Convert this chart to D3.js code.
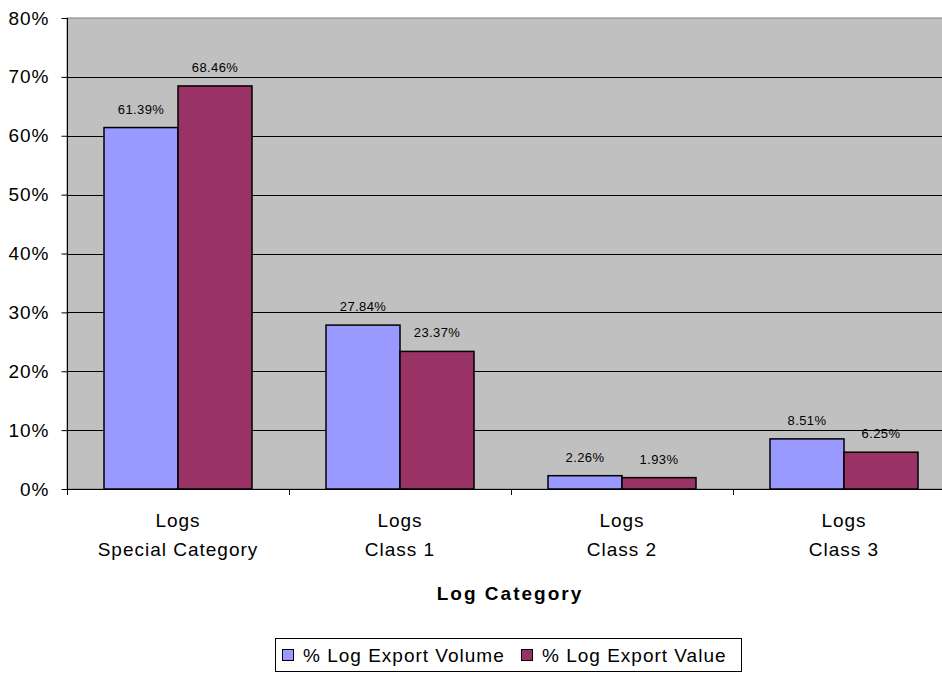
<!DOCTYPE html>
<html>
<head>
<meta charset="utf-8">
<script src="https://cdn.jsdelivr.net/npm/d3@7"></script>
<style>
  body { margin: 0; background: #fff; }
  svg { display: block; font-family: "Liberation Sans", Arial, sans-serif; }
</style>
</head>
<body>
<script>
// ** Data
const categories = ["Logs\nSpecial Category", "Logs\nClass 1", "Logs\nClass 2", "Logs\nClass 3"];
const seriesNames = ["% Log Export Volume", "% Log Export Value"];
const exportVolume = [61.39, 27.84, 2.26, 8.51];
const exportValue = [68.46, 23.37, 1.93, 6.25];
const yTicks = [0, 10, 20, 30, 40, 50, 60, 70, 80];
const colors = ["#9999FF", "#993366"];

const rows = categories.map((c, i) => ({ cat: c, values: [exportVolume[i], exportValue[i]] }));

const width = 942, height = 681;
const plot = { left: 67, right: 955, top: 18, bottom: 489 };

const svg = d3.select("body").append("svg")
  .attr("width", width)
  .attr("height", height);

const x = d3.scaleBand().domain(categories).range([plot.left, plot.right]).padding(0);
const xInner = d3.scaleBand().domain(seriesNames).range([0, x.bandwidth()])
  .paddingInner(0).paddingOuter(0.5);
const y = d3.scaleLinear().domain([0, 80]).range([plot.bottom, plot.top]);

// plot background
svg.append("rect")
  .attr("x", plot.left).attr("y", plot.top)
  .attr("width", plot.right - plot.left).attr("height", plot.bottom - plot.top)
  .attr("fill", "#C0C0C0")
  .attr("stroke", "#808080");

// gridlines
svg.append("g")
  .selectAll("line")
  .data(yTicks.filter(d => d > 0 && d < 80))
  .join("line")
  .attr("x1", plot.left).attr("x2", plot.right)
  .attr("y1", d => Math.round(y(d)) + 0.5).attr("y2", d => Math.round(y(d)) + 0.5)
  .attr("stroke", "#000").attr("stroke-width", 1);

// y axis
const yAxis = svg.append("g")
  .attr("transform", `translate(${plot.left + 0.5},0)`)
  .call(d3.axisLeft(y).tickValues(yTicks).tickSize(6).tickPadding(12).tickFormat(d => d + "%"));
yAxis.selectAll("text").attr("font-size", 19).attr("fill", "#000")
  .attr("letter-spacing", 1)
  .attr("font-family", "Liberation Sans, Arial, sans-serif");
yAxis.selectAll("line, path").attr("stroke", "#000");
yAxis.select(".domain").attr("d", `M0,${plot.top}V${plot.bottom}`);

// bars
const groups = svg.append("g")
  .selectAll("g")
  .data(rows)
  .join("g")
  .attr("transform", d => `translate(${x(d.cat)},0)`);

groups.selectAll("rect")
  .data(d => d.values.map((v, i) => ({ key: seriesNames[i], v, i })))
  .join("rect")
  .attr("x", d => xInner(d.key))
  .attr("y", d => y(d.v))
  .attr("width", xInner.bandwidth())
  .attr("height", d => y(0) - y(d.v))
  .attr("fill", d => colors[d.i])
  .attr("stroke", "#000")
  .attr("stroke-width", 1.5);

groups.selectAll("text.lbl")
  .data(d => d.values.map((v, i) => ({ key: seriesNames[i], v, i })))
  .join("text")
  .attr("class", "lbl")
  .attr("x", d => xInner(d.key) + xInner.bandwidth() / 2)
  .attr("y", d => y(d.v) - 14)
  .attr("text-anchor", "middle")
  .attr("font-size", 13)
  .attr("letter-spacing", 0.4)
  .attr("fill", "#000")
  .text(d => d.v.toFixed(2) + "%");

// x axis
const xAxisG = svg.append("g");
xAxisG.append("line")
  .attr("x1", plot.left).attr("x2", plot.right)
  .attr("y1", plot.bottom + 0.5).attr("y2", plot.bottom + 0.5)
  .attr("stroke", "#000");
xAxisG.selectAll("line.tick")
  .data(categories)
  .join("line")
  .attr("class", "tick")
  .attr("x1", d => x(d) + 0.5).attr("x2", d => x(d) + 0.5)
  .attr("y1", plot.bottom).attr("y2", plot.bottom + 6)
  .attr("stroke", "#000");

const catLabels = xAxisG.selectAll("text")
  .data(categories)
  .join("text")
  .attr("text-anchor", "middle")
  .attr("font-size", 19)
  .attr("letter-spacing", 1)
  .attr("fill", "#000");
catLabels.selectAll("tspan")
  .data(d => d.split("\n").map(t => ({ t, c: d })))
  .join("tspan")
  .attr("x", d => x(d.c) + x.bandwidth() / 2)
  .attr("y", (d, i) => 527 + i * 29)
  .text(d => d.t);

// axis title
svg.append("text")
  .attr("x", 510).attr("y", 600)
  .attr("text-anchor", "middle")
  .attr("font-size", 19)
  .attr("letter-spacing", 2)
  .attr("font-weight", "bold")
  .text("Log Category");

// legend
const legend = svg.append("g");
legend.append("rect")
  .attr("x", 275.5).attr("y", 638.5)
  .attr("width", 466).attr("height", 33)
  .attr("fill", "#fff").attr("stroke", "#000");
const legendX = [282, 521];
const items = legend.selectAll("g")
  .data(seriesNames)
  .join("g")
  .attr("transform", (d, i) => `translate(${legendX[i]},0)`);
items.append("rect")
  .attr("x", 0.5).attr("y", 649.5).attr("width", 11).attr("height", 11)
  .attr("fill", (d, i) => colors[i]).attr("stroke", "#000");
items.append("text")
  .attr("x", 21).attr("y", 662)
  .attr("font-size", 19)
  .attr("letter-spacing", 1)
  .text(d => d);
</script>
</body>
</html>
